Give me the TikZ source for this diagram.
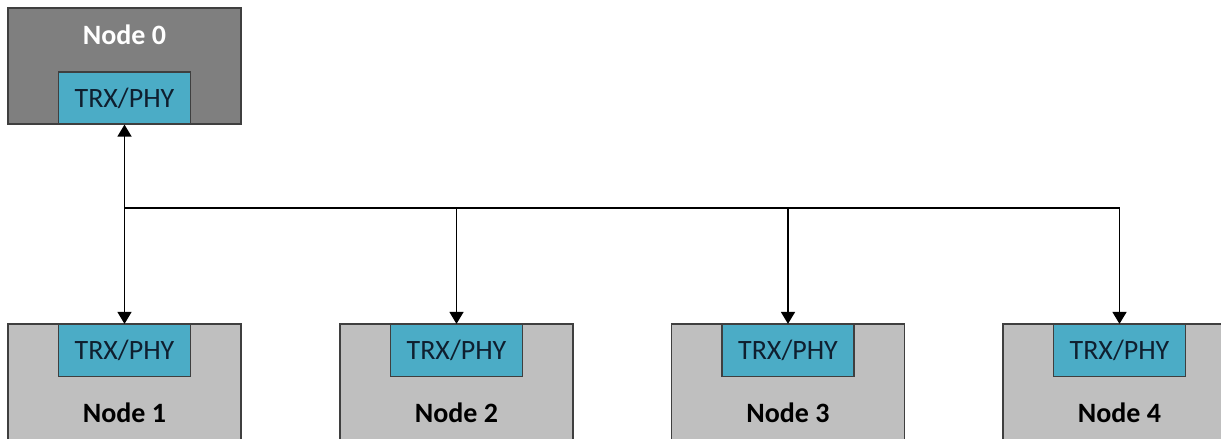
\documentclass[tikz,border=0pt]{standalone}
\usepackage{fontspec}
\setmainfont{Carlito}
\usetikzlibrary{arrows.meta,positioning}
\definecolor{masterfill}{HTML}{7F7F7F}
\definecolor{slavefill}{HTML}{BFBFBF}
\definecolor{phyfill}{HTML}{4BACC6}
\definecolor{edgegray}{HTML}{3F3F3F}
\definecolor{phytext}{HTML}{0F1F2F}
\tikzset{
  masterbox/.style={draw=edgegray, fill=masterfill, line width=0.9pt, minimum width=174.75pt, minimum height=87pt, inner sep=0pt},
  slavebox/.style={draw=edgegray, fill=slavefill, line width=0.9pt, minimum width=174.75pt, minimum height=94.5pt, inner sep=0pt},
  phybox/.style={draw=edgegray, fill=phyfill, line width=0.9pt, minimum width=99pt, minimum height=39pt, inner sep=0pt, text=phytext, font=\fontsize{21}{25}\selectfont},
  nodelabel/.style={inner sep=0pt, font=\fontsize{21}{25}\selectfont\bfseries},
  arrow/.style={-{Triangle[length=9pt,width=10.5pt]}, line width=1.2pt},
  bus/.style={line width=1.2pt}
}
\begin{document}
\begin{tikzpicture}[x=0.75pt, y=0.75pt]
\useasboundingbox (0,0) rectangle (1221,439);
\clip (0,0) rectangle (1221,439);
% master
\node[masterbox] (node0) at (124.5,373) {};
\node[nodelabel, text=white] (lab0) at (124.5,404) {Node 0};
\node[phybox] (phy0) at (124.5,341) {TRX/PHY};
% slaves
\foreach \i/\x in {1/124.5, 2/456.5, 3/788, 4/1119.5} {
  \node[slavebox] (node\i) at (\x,52) {};
  \node[phybox] (phy\i) at (\x,88.5) {TRX/PHY};
  \node[nodelabel] (lab\i) at (\x,26) {Node \i};
  \coordinate (bus\i) at (\x,231);
}
% bus
\draw[bus] (bus1) -- (bus4);
\draw[arrow] (bus1) -- (phy0);
\foreach \i in {1,...,4} {
  \draw[arrow] (bus\i) -- (phy\i);
}
\end{tikzpicture}
\end{document}
